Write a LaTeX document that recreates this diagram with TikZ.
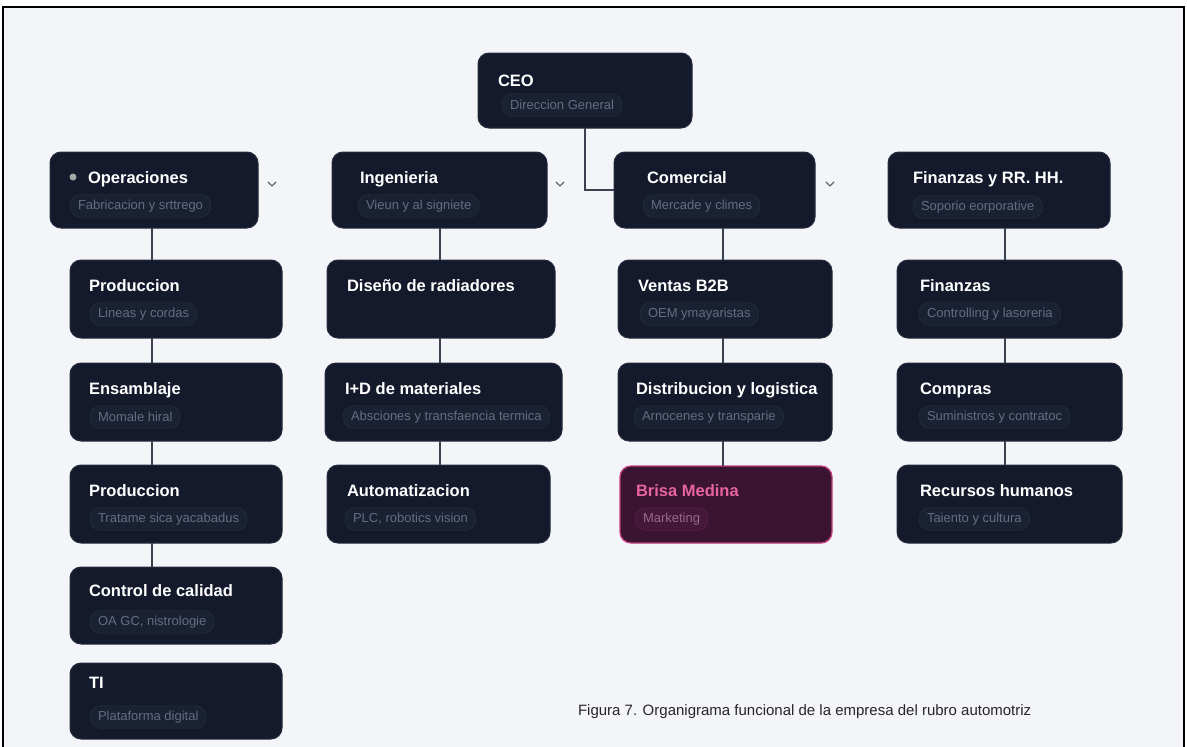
\documentclass[tikz,border=0pt]{standalone}
\usepackage{fontspec}
\setmainfont{Liberation Sans}
\usepackage{tikz}
\usetikzlibrary{positioning}
\definecolor{Canvas}{HTML}{F4F5F9}
\definecolor{Card}{HTML}{141A2B}
\definecolor{CardLine}{HTML}{252C3D}
\definecolor{PillFill}{HTML}{1A2133}
\definecolor{PillLine}{HTML}{2A3246}
\definecolor{PillText}{HTML}{646D82}
\definecolor{Wire}{HTML}{3C4150}
\definecolor{HotFill}{HTML}{3A1431}
\definecolor{HotLine}{HTML}{C4407F}
\definecolor{HotText}{HTML}{E8649F}
\definecolor{HotPill}{HTML}{44183A}
\definecolor{HotPillLine}{HTML}{5E2550}
\definecolor{HotPillText}{HTML}{9A6A88}

\begin{document}
\begin{tikzpicture}[
  x=1pt,y=-1pt,
  every node/.style={inner sep=0pt,outer sep=0pt},
  card/.style={draw=CardLine,fill=Card,rounded corners=11pt,line width=1pt},
  hot/.style={draw=HotLine,fill=HotFill,rounded corners=11pt,line width=1.3pt},
  ttl/.style={anchor=base west,text=white,font=\fontsize{16.5}{18}\selectfont\bfseries},
  hotttl/.style={ttl,text=HotText},
  pill/.style={anchor=west,draw=PillLine,fill=PillFill,text=PillText,rounded corners=11pt,
    inner xsep=8pt,minimum height=23pt,font=\fontsize{13}{14}\selectfont},
  hotpill/.style={pill,draw=HotPillLine,fill=HotPill,text=HotPillText},
  link/.style={draw=Wire,line width=1.2pt},
  chev/.style={draw=gray!80!black,line width=1.1pt,line cap=round,line join=round}
]
\useasboundingbox (0,0) rectangle (1187,747);
\fill[Canvas] (3,7) rectangle (1184,747);
\draw[line width=2pt] (3,747) -- (3,7) -- (1184,7) -- (1184,747);

% top
\node[card,minimum width=214pt,minimum height=75pt] (ceo) at (585,90.5) {};
\node[ttl] (ceoT) at (498,86) {CEO};
\node[pill] (ceoS) at (502,105) {Direccion General};

% area heads
\node[card,minimum width=208pt,minimum height=76pt] (ops) at (154,190) {};
\fill[gray!70] (73,177) circle (3.5);
\node[ttl] (opsT) at (88,183) {Operaciones};
\node[pill] (opsS) at (70,206) {Fabricacion y srttrego};
\draw[chev] (268,182) -- (272,186) -- (276,182);

\node[card,minimum width=215pt,minimum height=76pt] (ing) at (439.5,190) {};
\node[ttl] (ingT) at (360,183) {Ingenieria};
\node[pill] (ingS) at (358,206) {Vieun y al signiete};
\draw[chev] (556,182) -- (560,186) -- (564,182);

\node[card,minimum width=201pt,minimum height=76pt] (com) at (714.5,190) {};
\node[ttl] (comT) at (647,183) {Comercial};
\node[pill] (comS) at (643,206) {Mercade y climes};
\draw[chev] (826,182) -- (830,186) -- (834,182);

\node[card,minimum width=222pt,minimum height=76pt] (fin) at (999,190) {};
\node[ttl] (finT) at (913,183) {Finanzas y RR. HH.};
\node[pill] (finS) at (913,207) {Soporio eorporative};

% operaciones
\node[card,minimum width=212pt,minimum height=78pt] (prodA) at (176,299) {};
\node[ttl] (prodAT) at (89,291) {Produccion};
\node[pill] (prodAS) at (90,314) {Lineas y cordas};
\node[card,minimum width=212pt,minimum height=78pt] (ens) at (176,402) {};
\node[ttl] (ensT) at (89,394) {Ensamblaje};
\node[pill] (ensS) at (90,417) {Momale hiral};
\node[card,minimum width=212pt,minimum height=78pt] (prodB) at (176,504) {};
\node[ttl] (prodBT) at (89,496) {Produccion};
\node[pill] (prodBS) at (90,519) {Tratame sica yacabadus};
\node[card,minimum width=212pt,minimum height=77pt] (qc) at (176,605.5) {};
\node[ttl] (qcT) at (89,596) {Control de calidad};
\node[pill] (qcS) at (90,622) {OA GC, nistrologie};
\node[card,minimum width=212pt,minimum height=76pt] (ti) at (176,701) {};
\node[ttl] (tiT) at (89,688) {TI};
\node[pill] (tiS) at (90,717) {Plataforma digital};

% ingenieria
\node[card,minimum width=228pt,minimum height=78pt] (dis) at (441,299) {};
\node[ttl] (disT) at (347,291) {Diseño de radiadores};
\node[card,minimum width=237pt,minimum height=78pt] (imat) at (443.5,402) {};
\node[ttl] (imatT) at (345,394) {I+D de materiales};
\node[pill] (imatS) at (343,417) {Absciones y transfaencia termica};
\node[card,minimum width=223pt,minimum height=78pt] (auto) at (438.5,504) {};
\node[ttl] (autoT) at (347,496) {Automatizacion};
\node[pill] (autoS) at (345,519) {PLC, robotics vision};

% comercial
\node[card,minimum width=214pt,minimum height=78pt] (b2b) at (725,299) {};
\node[ttl] (b2bT) at (638,291) {Ventas B2B};
\node[pill] (b2bS) at (640,314) {OEM ymayaristas};
\node[card,minimum width=214pt,minimum height=78pt] (dist) at (725,402) {};
\node[ttl] (distT) at (636,394) {Distribucion y logistica};
\node[pill] (distS) at (634,417) {Arnocenes y transparie};
\node[hot,minimum width=212pt,minimum height=77pt] (mkt) at (726,504.5) {};
\node[hotttl] (mktT) at (636,496) {Brisa Medina};
\node[hotpill] (mktS) at (635,519) {Marketing};

% finanzas
\node[card,minimum width=225pt,minimum height=78pt] (fina) at (1009.5,299) {};
\node[ttl] (finaT) at (920,291) {Finanzas};
\node[pill] (finaS) at (919,314) {Controlling y lasoreria};
\node[card,minimum width=225pt,minimum height=78pt] (buy) at (1009.5,402) {};
\node[ttl] (buyT) at (920,394) {Compras};
\node[pill] (buyS) at (919,417) {Suministros y contratoc};
\node[card,minimum width=225pt,minimum height=78pt] (hr) at (1009.5,504) {};
\node[ttl] (hrT) at (920,496) {Recursos humanos};
\node[pill] (hrS) at (919,519) {Taiento y cultura};

% lines
\coordinate (opsX) at (152,0);
\coordinate (ingX) at (440,0);
\coordinate (comX) at (723,0);
\coordinate (finX) at (1005,0);
\draw[link] (ceo.south) |- (com.west);
\draw[link] (ops.south -| opsX) -- (prodA.north -| opsX);
\draw[link] (prodA.south -| opsX) -- (ens.north -| opsX);
\draw[link] (ens.south -| opsX) -- (prodB.north -| opsX);
\draw[link] (prodB.south -| opsX) -- (qc.north -| opsX);
\draw[link] (ing.south -| ingX) -- (dis.north -| ingX);
\draw[link] (dis.south -| ingX) -- (imat.north -| ingX);
\draw[link] (imat.south -| ingX) -- (auto.north -| ingX);
\draw[link] (com.south -| comX) -- (b2b.north -| comX);
\draw[link] (b2b.south -| comX) -- (dist.north -| comX);
\draw[link] (dist.south -| comX) -- (mkt.north -| comX);
\draw[link] (fin.south -| finX) -- (fina.north -| finX);
\draw[link] (fina.south -| finX) -- (buy.north -| finX);
\draw[link] (buy.south -| finX) -- (hr.north -| finX);

\node[anchor=west,font=\fontsize{15}{17}\selectfont,text=black!85] (cap) at (578,712)
  {Figura 7. Organigrama funcional de la empresa del rubro automotriz};
\end{tikzpicture}
\end{document}
